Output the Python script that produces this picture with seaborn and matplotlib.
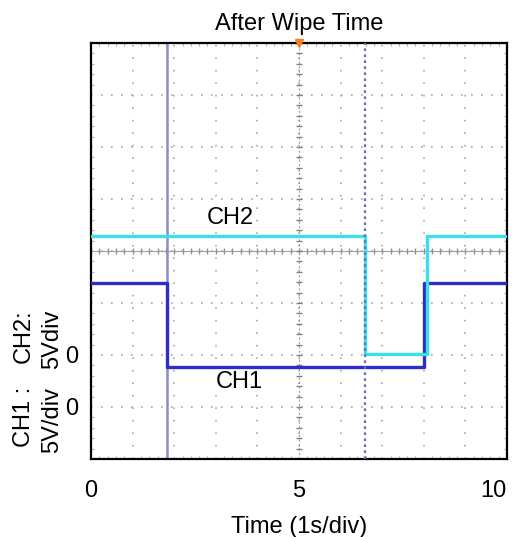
import numpy as np
import pandas as pd
import matplotlib
matplotlib.use('Agg')
import matplotlib.pyplot as plt
import seaborn as sns
from matplotlib.transforms import blended_transform_factory

# scope trace data (time in s, level in screen divisions from the bottom)
ch1_t = [0, 1.82, 1.82, 8.0, 8.0, 10]
ch1_v = [3.38, 3.38, 1.77, 1.77, 3.38, 3.38]
ch2_t = [0, 6.59, 6.59, 8.07, 8.07, 10]
ch2_v = [4.29, 4.29, 2.02, 2.02, 4.29, 4.29]

cursor_a = 1.82
cursor_b = 6.59
trigger_t = 5

x_ticks = list(range(0, 11))
x_tick_labels = ['0', '', '', '', '', '5', '', '', '', '', '10']
y_ticks = list(range(0, 9))
y_tick_labels = ['', '0', '0', '', '', '', '', '', '']

df1 = pd.DataFrame({'t': ch1_t, 'v': ch1_v})
df2 = pd.DataFrame({'t': ch2_t, 'v': ch2_v})

sns.set_style('white')
plt.rcParams['font.family'] = ['Liberation Sans', 'DejaVu Sans']
plt.rcParams['text.color'] = 'black'
plt.rcParams['axes.labelcolor'] = 'black'
plt.rcParams['xtick.labelcolor'] = 'black'
plt.rcParams['ytick.labelcolor'] = 'black'

fs = 17

fig = plt.figure(figsize=(5.12, 5.37), dpi=100)
ax = fig.add_axes([0.1777, 0.1453, 0.8125, 0.7747])

ax.set_xlim(0, 10)
ax.set_ylim(0, 8)

# graticule
ax.set_xticks(x_ticks)
ax.set_xticklabels(x_tick_labels, fontsize=fs)
ax.set_yticks(y_ticks)
ax.set_yticklabels(y_tick_labels, fontsize=fs)
ax.get_xticklabels()[-1].set_horizontalalignment('right')
ax.set_xticks(np.arange(0, 10.01, 0.2), minor=True)
ax.set_yticks(np.arange(0, 8.01, 0.2), minor=True)
ax.tick_params(which='major', length=0, pad=15)
ax.tick_params(axis='y', which='major', pad=9)
ax.tick_params(which='minor', direction='in', length=2.5, width=0.8, color='#b0b0b0',
               top=True, right=True, bottom=True, left=True)
ax.xaxis.grid(True, color='#a8a8a8', linewidth=1.2, linestyle=(0, (1, 6.5)))
ax.yaxis.grid(True, color='#a8a8a8', linewidth=1.2, linestyle=(0, (1, 5)))

minor_x = np.arange(0, 10.01, 0.2)
minor_y = np.arange(0, 8.01, 0.2)
ax.axhline(4, color='#a0a0a0', linewidth=0.8, zorder=1)
ax.plot(minor_x, np.full_like(minor_x, 4), linestyle='none', marker='|',
        markersize=5, color='#909090', zorder=1)
ax.axvline(trigger_t, color='#a0a0a0', linewidth=0.8, linestyle=(0, (2, 2)), zorder=1)
ax.plot(np.full_like(minor_y, trigger_t), minor_y, linestyle='none', marker='_',
        markersize=5, color='#808080', zorder=1)

# cursors
ax.axvline(cursor_a, color='#8c8cc8', linewidth=1.8, zorder=2)
ax.axvline(cursor_b, color='#6a6ac0', linewidth=1.6, linestyle=(0, (1.2, 1.5)), zorder=4)

# traces
sns.lineplot(data=df1, x='t', y='v', sort=False, estimator=None, color='#2c2cc8',
             linewidth=2.4, ax=ax, zorder=3)
sns.lineplot(data=df2, x='t', y='v', sort=False, estimator=None, color='#38e0ea',
             linewidth=2.4, ax=ax, zorder=3)

# trigger mark
ax.plot([trigger_t], [8], marker='v', markersize=6, color='#f08020',
        clip_on=False, zorder=6)

ax.text(3.34, 4.63, 'CH2', fontsize=fs, ha='center', va='center',
        bbox=dict(facecolor='white', edgecolor='none', pad=1), zorder=5)
ax.text(3.56, 1.48, 'CH1', fontsize=fs, ha='center', va='center',
        bbox=dict(facecolor='white', edgecolor='none', pad=1), zorder=5)

trans = blended_transform_factory(ax.transAxes, ax.transData)
ax.text(-0.127, 1.385, 'CH1 :\n5V/div', fontsize=fs, rotation=90, ha='center',
        va='top', multialignment='right', linespacing=1.35, transform=trans)
ax.text(-0.127, 2.87, 'CH2:\n5Vdiv', fontsize=fs, rotation=90, ha='center',
        va='top', multialignment='right', linespacing=1.35, transform=trans)

for s in ax.spines.values():
    s.set_color('black')
    s.set_linewidth(1.6)

ax.set_title('After Wipe Time', fontsize=fs, pad=9)
ax.set_xlabel('Time (1s/div)', fontsize=fs, labelpad=10)
ax.set_ylabel('')

fig.savefig('out.png', dpi=100)
